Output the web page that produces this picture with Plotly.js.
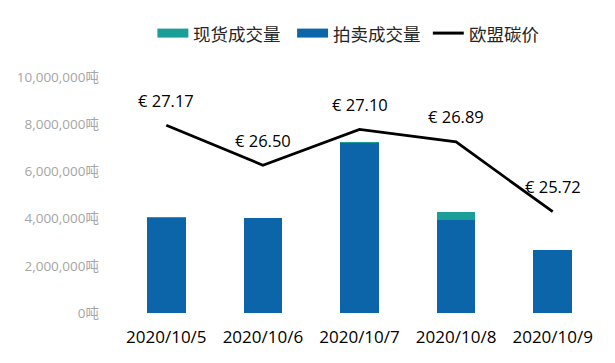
<!DOCTYPE html>
<html>
<head>
<meta charset="utf-8">
<script src="https://cdn.plot.ly/plotly-3.0.1.min.js"></script>
<style>html,body{margin:0;padding:0;background:#fff;}#chart{width:615px;height:363px;}</style>
</head>
<body>
<div id="chart"></div>
<script>
const dates = ["2020/10/5", "2020/10/6", "2020/10/7", "2020/10/8", "2020/10/9"];
const spotVolume = [40000, 30000, 50000, 330000, 30000];
const auctionVolume = [4010000, 4010000, 7190000, 3930000, 2660000];
const euaPrice = [27.17, 26.50, 27.10, 26.89, 25.72];
const seriesNames = ["现货成交量", "拍卖成交量", "欧盟碳价"];
const seriesColors = ["#1b9e98", "#0b65a8", "#000000"];

const cjk = '"Microsoft YaHei", "Noto Sans CJK SC", "Open Sans", sans-serif';
const num = '"Open Sans", "Noto Sans CJK SC", sans-serif';

const W = 615, H = 363, ML = 117.5, MR = 13.5, MT = 76.5, MB = 50;
const PW = W - ML - MR, PH = H - MT - MB;
const px2x = px => (px - ML) / PW;
const py2y = py => (H - MB - py) / PH;

const traces = [
  {type: "bar", x: dates, y: auctionVolume, name: seriesNames[1], marker: {color: seriesColors[1]}, showlegend: false, hoverinfo: "y"},
  {type: "bar", x: dates, y: spotVolume, name: seriesNames[0], marker: {color: seriesColors[0]}, showlegend: false, hoverinfo: "y"},
  {type: "scatter", mode: "lines", x: dates, y: euaPrice, yaxis: "y2", name: seriesNames[2],
   line: {color: seriesColors[2], width: 2.8}, showlegend: false}
];

const annotations = euaPrice.map((p, i) => ({
  x: dates[i], y: p, xref: "x", yref: "y2", text: "€ " + p.toFixed(2),
  showarrow: false, yshift: 25, font: {family: num, size: 16.5, color: "#000"}
}));

// custom legend (wide swatches like the reference)
const legendX = [157, 297, 433];
const shapes = [];
seriesNames.forEach((n, i) => {
  const x0 = px2x(legendX[i]);
  const x1 = px2x(legendX[i] + 31);
  if (i < 2) {
    shapes.push({type: "rect", xref: "paper", yref: "paper", x0: x0, x1: x1,
      y0: py2y(37), y1: py2y(28),
      fillcolor: seriesColors[i], line: {width: 0}});
  } else {
    shapes.push({type: "line", xref: "paper", yref: "paper", x0: x0, x1: x1,
      y0: py2y(32.5), y1: py2y(32.5),
      line: {color: seriesColors[i], width: 3}});
  }
  annotations.push({xref: "paper", yref: "paper", x: px2x(legendX[i] + 34),
    y: py2y(32.5), xanchor: "left", yanchor: "middle", showarrow: false,
    text: n, font: {family: cjk, size: 17.5, color: "#262626"}});
});

const layout = {
  width: W, height: H,
  margin: {l: ML, r: MR, t: MT, b: MB},
  paper_bgcolor: "#ffffff", plot_bgcolor: "#ffffff",
  barmode: "stack", bargap: 0.6,
  showlegend: false,
  xaxis: {type: "category", showgrid: false, zeroline: false, showline: false, ticks: "",
    tickfont: {family: num, size: 17, color: "#000"}, ticklabelstandoff: 12},
  yaxis: {range: [0, 10000000], dtick: 2000000, tickformat: ",d", ticksuffix: "吨",
    showgrid: false, zeroline: false, showline: false, ticks: "",
    tickfont: {family: num, size: 13.5, color: "#a6a6a6"}, ticklabelstandoff: 18},
  yaxis2: {overlaying: "y", side: "right", range: [24.02, 27.98], visible: false, showgrid: false},
  annotations: annotations,
  shapes: shapes
};

Plotly.newPlot("chart", traces, layout, {displayModeBar: false, staticPlot: true});
</script>
</body>
</html>
